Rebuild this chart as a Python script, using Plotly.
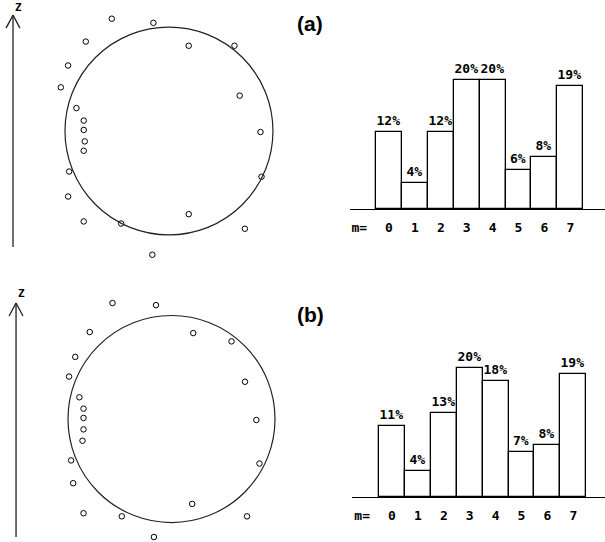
import plotly.graph_objects as go

W, H = 605, 542

# ---- data ----
m_values = [0, 1, 2, 3, 4, 5, 6, 7]
pct_a = [12, 4, 12, 20, 20, 6, 8, 19]
pct_b = [11, 4, 13, 20, 18, 7, 8, 19]

# points around the sphere (units of circle radius, centre = origin)
pts_a_x = [-0.55, -0.15, -0.80, 0.19, 0.63, -0.97, -1.04, 0.68, -0.89, -0.82, -0.82,
           -0.81, -0.82, 0.88, -0.96, 0.89, -0.97, 0.19, -0.82, -0.46, 0.73, -0.16]
pts_a_y = [1.08, 1.04, 0.86, 0.82, 0.82, 0.63, 0.42, 0.34, 0.22, 0.10, 0.01,
           -0.10, -0.19, -0.01, -0.39, -0.44, -0.63, -0.80, -0.87, -0.89, -0.94, -1.19]
pts_b_x = [-0.57, -0.15, -0.79, 0.21, 0.58, -0.93, -0.99, 0.71, -0.89, -0.85, -0.85,
           -0.85, -0.86, 0.82, -0.97, 0.85, -0.95, 0.20, -0.85, -0.48, 0.73, -0.17]
pts_b_y = [1.12, 1.10, 0.84, 0.83, 0.75, 0.60, 0.41, 0.36, 0.21, 0.10, 0.01,
           -0.10, -0.21, -0.01, -0.40, -0.43, -0.62, -0.82, -0.91, -0.94, -0.94, -1.14]

mono = "DejaVu Sans Mono"

fig = go.Figure()

# sphere panels
for px, py, xa, ya in [(pts_a_x, pts_a_y, "x", "y"), (pts_b_x, pts_b_y, "x3", "y3")]:
    fig.add_trace(go.Scatter(x=px, y=py, mode="markers", xaxis=xa, yaxis=ya,
                             marker=dict(symbol="circle-open", size=5.5, color="black",
                                         line=dict(width=1, color="black")),
                             showlegend=False, hoverinfo="skip"))

# histograms
for pct, xa, ya in [(pct_a, "x2", "y2"), (pct_b, "x4", "y4")]:
    fig.add_trace(go.Bar(x=m_values, y=pct, xaxis=xa, yaxis=ya,
                         marker=dict(color="white", line=dict(color="black", width=1.3)),
                         text=[f"{p}%" for p in pct], textposition="outside",
                         constraintext="none", cliponaxis=False,
                         textfont=dict(family=mono, size=13, color="black", weight="bold"),
                         showlegend=False, hoverinfo="skip"))

tick_vals = [-1.15] + m_values
tick_text = ["m="] + [str(v) for v in m_values]

hist_x = dict(showline=True, linecolor="black", linewidth=1.3, showgrid=False,
              zeroline=False, tickmode="array", tickvals=tick_vals, ticktext=tick_text,
              ticks="outside", ticklen=6, tickcolor="rgba(0,0,0,0)",
              tickfont=dict(family=mono, size=13, color="black", weight="bold"))
hidden = dict(visible=False, showgrid=False, zeroline=False)

fig.update_layout(
    width=W, height=H, margin=dict(l=0, r=0, t=0, b=0),
    paper_bgcolor="white", plot_bgcolor="white", bargap=0,
    xaxis=dict(domain=[0, 300 / W], range=[-1.625, 1.26], **hidden),
    yaxis=dict(domain=[1 - 270 / H, 1], range=[-1.337, 1.26], **hidden),
    xaxis3=dict(domain=[0, 300 / W], range=[-1.657, 1.2415], anchor="y3", **hidden),
    yaxis3=dict(domain=[0, 270 / H], range=[-1.188, 1.42], anchor="x3", **hidden),
    xaxis2=dict(domain=[350 / W, 1], range=[-1.506, 8.34], anchor="y2", **hist_x),
    yaxis2=dict(domain=[1 - 209 / H, 1], range=[0, 32.4], anchor="x2", **hidden),
    xaxis4=dict(domain=[352 / W, 1], range=[-1.544, 8.224], anchor="y4", **hist_x),
    yaxis4=dict(domain=[45 / H, 1 - 300 / H], range=[0, 30.54], anchor="x4", **hidden),
)

line = dict(color="#222", width=1.3)
shapes = []
for xr, yr, ax, ytop, ybot, yarm in [("x", "y", -1.5, 1.115, -1.115, 0.99),
                                    ("x3", "y3", -1.502, 1.12, -1.14, 0.995)]:
    shapes.append(dict(type="circle", xref=xr, yref=yr, x0=-1, x1=1, y0=-1, y1=1,
                       line=dict(color="#222", width=1.2)))
    shapes.append(dict(type="line", xref=xr, yref=yr, x0=ax, x1=ax, y0=ybot, y1=ytop, line=line))
    shapes.append(dict(type="line", xref=xr, yref=yr, x0=ax - 0.067, x1=ax, y0=yarm, y1=ytop, line=line))
    shapes.append(dict(type="line", xref=xr, yref=yr, x0=ax + 0.067, x1=ax, y0=yarm, y1=ytop, line=line))
fig.update_layout(shapes=shapes)

ann = [
    dict(text="Z", x=13 / W, y=1 - 7 / H, xref="paper", yref="paper", showarrow=False,
         yanchor="middle", font=dict(family=mono, size=11, color="black", weight="bold")),
    dict(text="Z", x=16 / W, y=1 - 293 / H, xref="paper", yref="paper", showarrow=False,
         yanchor="middle", font=dict(family=mono, size=11, color="black", weight="bold")),
    dict(text="<b>(a)</b>", x=310 / W, y=1 - 24 / H, xref="paper", yref="paper",
         yanchor="middle", showarrow=False, font=dict(family="Liberation Sans", size=21, color="black")),
    dict(text="<b>(b)</b>", x=310 / W, y=1 - 314 / H, xref="paper", yref="paper",
         yanchor="middle", showarrow=False, font=dict(family="Liberation Sans", size=21, color="black")),
]
fig.update_layout(annotations=ann)

fig.write_html("out.html")
